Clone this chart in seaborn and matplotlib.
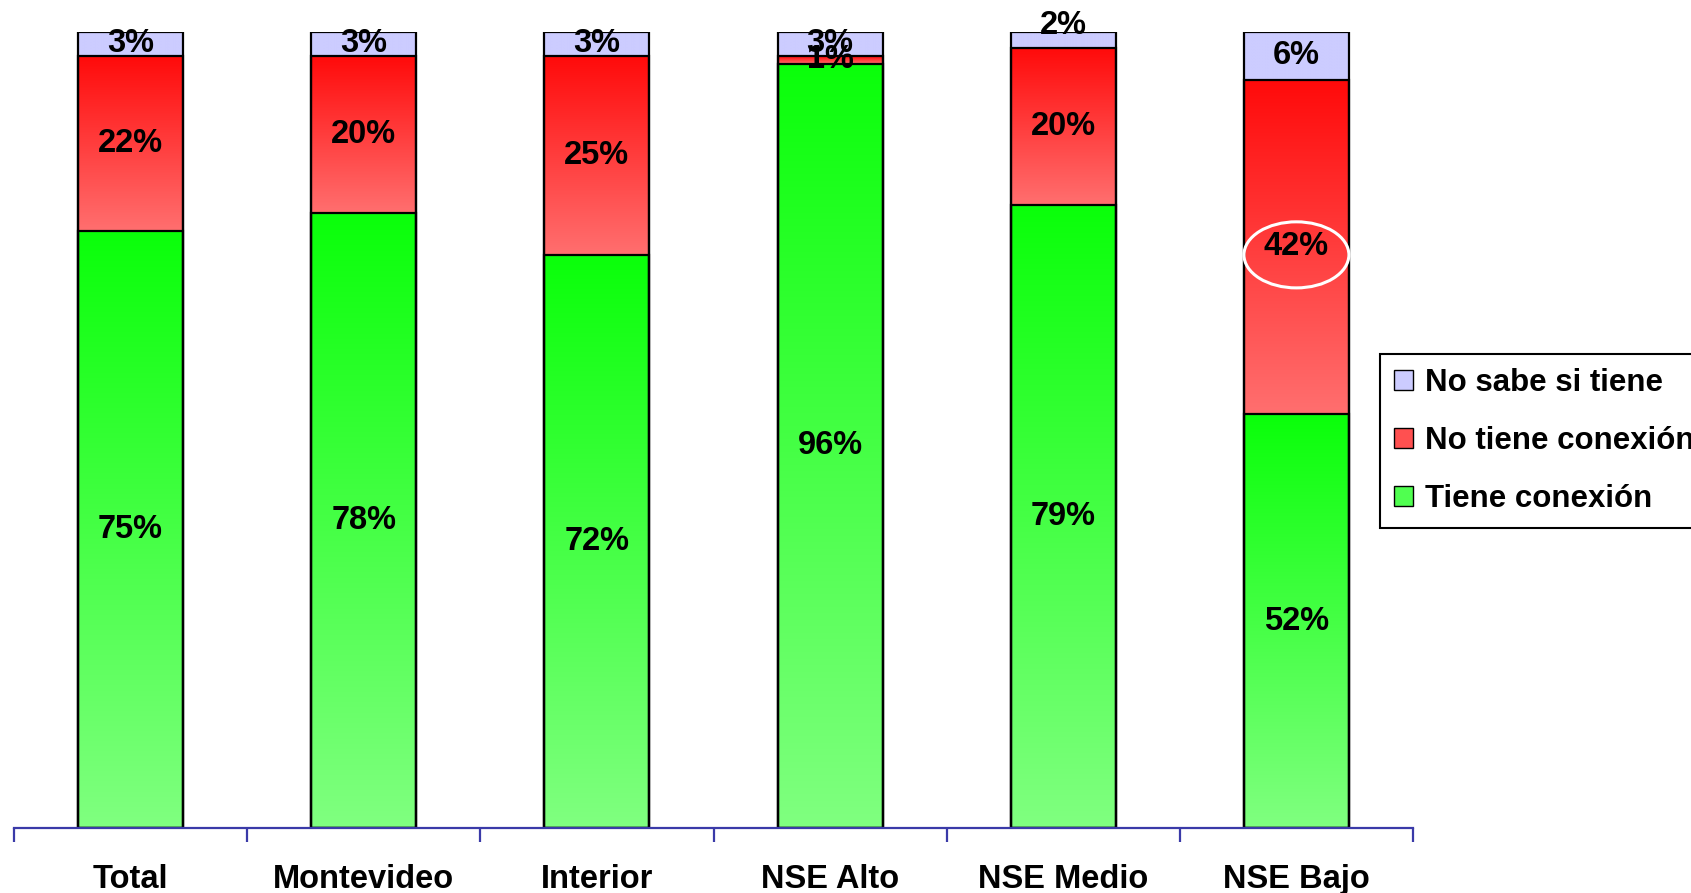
import numpy as np
import pandas as pd
import matplotlib
matplotlib.use("Agg")
import matplotlib.pyplot as plt
import seaborn as sns
from matplotlib.colors import LinearSegmentedColormap
from matplotlib.patches import Patch, Ellipse

# --- datos ---
categorias = ["Total", "Montevideo", "Interior", "NSE Alto", "NSE Medio", "NSE Bajo"]
tiene = [75, 78, 72, 96, 79, 52]
no_tiene = [22, 20, 25, 1, 20, 42]
no_sabe = [3, 3, 3, 3, 2, 6]
series = ["Tiene conexión", "No tiene conexión", "No sabe si tiene"]

sns.set_theme(style="white")
plt.rcParams['font.family'] = ['Liberation Sans', 'DejaVu Sans']
plt.rcParams['text.color'] = 'black'
plt.rcParams['xtick.color'] = 'black'

df = pd.DataFrame({"cat": categorias, "tiene": tiene, "no_tiene": no_tiene, "no_sabe": no_sabe})
tot = df[["tiene", "no_tiene", "no_sabe"]].sum(axis=1)
# barras 100% apiladas
df["p1"] = df["tiene"] / tot * 100
df["p2"] = (df["tiene"] + df["no_tiene"]) / tot * 100
df["p3"] = 100.0

fig = plt.figure(figsize=(16.91, 8.93), dpi=100)
ax = fig.add_axes([0.0083, 0.0728, 0.8273, 0.8914])

ANCHO = 0.45
FS = 23.5
# capas acumuladas (de mayor a menor), caras transparentes, solo bordes
for col in ["p3", "p2", "p1"]:
    sns.barplot(data=df, x="cat", y=col, ax=ax, width=ANCHO, facecolor="none",
                edgecolor="black", linewidth=1.6, zorder=5)

verde = LinearSegmentedColormap.from_list("verde", ["#80FF80", "#0AFF0A"])
rojo = LinearSegmentedColormap.from_list("rojo", ["#FF6F6F", "#FF0A0A"])
azul = LinearSegmentedColormap.from_list("azul", ["#CCCCFF", "#CCCCFF"])
grad = np.linspace(0, 1, 256).reshape(-1, 1)

x = np.arange(len(categorias))
bases = [np.zeros(len(x)), df["p1"].values, df["p2"].values]
topes = [df["p1"].values, df["p2"].values, df["p3"].values]
for cmap, b, t in zip([verde, rojo, azul], bases, topes):
    for xi, bi, ti in zip(x, b, t):
        ax.imshow(grad, cmap=cmap, origin="lower", aspect="auto", interpolation="bilinear",
                  extent=[xi - ANCHO / 2, xi + ANCHO / 2, bi, ti], zorder=2)

# etiquetas de valores
valores = [tiene, no_tiene, no_sabe]
for vals, b, t in zip(valores, bases, topes):
    for xi, v, bi, ti in zip(x, vals, b, t):
        yy = (bi + ti) / 2
        if v == 2:  # en el original la etiqueta queda algo por encima
            yy += 1.8
        ax.text(xi, yy, f"{v}%", ha="center", va="center",
                fontsize=FS, fontweight="bold", color="black", zorder=8)

# elipse blanca sobre el 42%
i = categorias.index("NSE Bajo")
yc = (bases[1][i] + topes[1][i]) / 2 - 1.0
ax.add_patch(Ellipse((x[i], yc), ANCHO * 1.0, 8.3, fill=False, edgecolor="white",
                     linewidth=2.2, zorder=9))

ax.set_xlim(-0.5, len(categorias) - 0.5)
ax.set_ylim(0, 100)
ax.set_xlabel("")
ax.set_ylabel("")
ax.set_yticks([])
for s in ["top", "right", "left"]:
    ax.spines[s].set_visible(False)
ax.spines["bottom"].set_color("#3A3AA8")
ax.spines["bottom"].set_linewidth(1.6)
ax.spines["bottom"].set_zorder(6)

ax.set_xticks(x)
ax.set_xticklabels(categorias, fontsize=FS, fontweight="bold", color="black")
ax.tick_params(axis="x", which="major", length=0, pad=26)
ax.set_xticks(np.arange(-0.5, len(categorias)), minor=True)
ax.tick_params(axis="x", which="minor", bottom=True, length=10, width=1.6,
               color="#3A3AA8", direction="out")

handles = [Patch(facecolor="#CCCCFF", edgecolor="black", label=series[2]),
           Patch(facecolor="#FF5050", edgecolor="black", label=series[1]),
           Patch(facecolor="#50FF50", edgecolor="black", label=series[0])]
leg = fig.legend(handles=handles, loc="upper left", bbox_to_anchor=(1380 / 1691, 1 - 354 / 893),
                 frameon=True, fancybox=False, framealpha=1, edgecolor="black",
                 prop={"size": 22.5, "weight": "bold"}, handlelength=0.6, handleheight=0.6,
                 handletextpad=0.4, labelspacing=0.9, borderpad=0.45, borderaxespad=0)
leg.get_frame().set_linewidth(1.5)
for t in leg.get_texts():
    t.set_color("black")

fig.savefig("out.png", dpi=100)
